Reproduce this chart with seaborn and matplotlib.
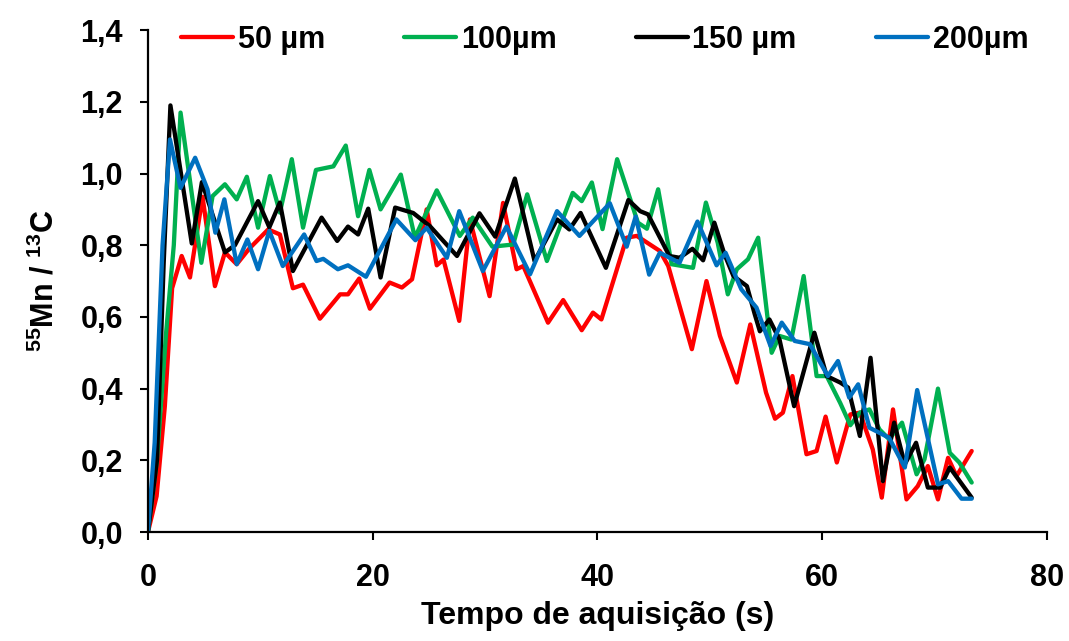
import numpy as np
import pandas as pd
import matplotlib
matplotlib.use("Agg")
import matplotlib.pyplot as plt
import seaborn as sns
from matplotlib.ticker import FuncFormatter

# Dados: tempo (s) e razão 55Mn/13C para cada diâmetro de feixe
t_50 = [0, 0.77, 1.5, 2.15, 3.0, 3.74, 4.86, 5.96, 6.85, 7.9, 9.0, 10.7, 11.74, 12.9, 13.8,
        15.3, 17.1, 17.8, 18.8, 19.75, 21.5, 22.6, 23.5, 24.8, 25.7, 26.3, 27.7, 28.65, 30.4,
        31.6, 32.8, 33.4, 35.6, 36.95, 38.6, 39.6, 40.35, 42.6, 43.5, 45.55, 46.3, 48.4, 49.7,
        50.9, 52.4, 53.6, 55.0, 55.8, 56.5, 57.35, 58.6, 59.5, 60.3, 61.3, 62.5, 63.35, 64.5,
        65.3, 66.3, 67.5, 68.5, 69.4, 70.3, 71.2, 71.95, 73.3]
y_50 = [0, 0.10, 0.35, 0.68, 0.77, 0.71, 0.935, 0.686, 0.78, 0.747, 0.79, 0.844, 0.83, 0.68, 0.69,
        0.595, 0.663, 0.663, 0.707, 0.623, 0.696, 0.682, 0.705, 0.90, 0.744, 0.76, 0.589, 0.872, 0.658,
        0.918, 0.733, 0.742, 0.584, 0.647, 0.563, 0.612, 0.593, 0.821, 0.826, 0.784, 0.742, 0.51, 0.70,
        0.547, 0.417, 0.579, 0.389, 0.316, 0.333, 0.435, 0.217, 0.226, 0.322, 0.194, 0.328, 0.333, 0.23,
        0.096, 0.342, 0.091, 0.128, 0.184, 0.091, 0.207, 0.156, 0.226]

t_100 = [0, 0.8, 1.6, 2.3, 2.9, 4.75, 5.75, 6.85, 7.9, 8.8, 9.8, 10.85, 11.74, 12.8, 13.8,
         14.95, 16.5, 17.6, 18.7, 19.7, 20.7, 22.5, 23.75, 25.7, 27.75, 28.9, 30.65, 32.5, 33.75,
         35.5, 37.8, 38.6, 39.5, 40.45, 41.75, 43.6, 44.4, 45.4, 46.6, 48.5, 49.65, 50.7, 51.6,
         52.4, 53.4, 54.3, 55.5, 56.2, 57.25, 58.35, 59.5, 60.4, 61.6, 62.5, 63.35, 64.2, 65.1,
         65.95, 67.1, 68.4, 69.1, 70.3, 71.35, 72.2, 73.3]
y_100 = [0, 0.2, 0.55, 0.8, 1.17, 0.751, 0.937, 0.97, 0.928, 0.991, 0.849, 0.993, 0.891, 1.04, 0.849,
         1.01, 1.02, 1.078, 0.881, 1.01, 0.90, 0.997, 0.821, 0.953, 0.826, 0.877, 0.796, 0.802, 0.942,
         0.756, 0.946, 0.923, 0.975, 0.845, 1.04, 0.863, 0.846, 0.956, 0.747, 0.737, 0.919, 0.807, 0.663,
         0.733, 0.761, 0.821, 0.50, 0.547, 0.537, 0.714, 0.435, 0.435, 0.36, 0.298, 0.333, 0.342, 0.286,
         0.259, 0.305, 0.161, 0.203, 0.40, 0.221, 0.194, 0.138]

t_150 = [0, 0.8, 1.4, 2.0, 3.9, 4.8, 6.85, 7.74, 9.8, 10.8, 11.74, 12.9, 15.45, 16.84, 17.8,
         18.7, 19.6, 20.7, 22.0, 23.6, 25.1, 27.5, 29.5, 30.9, 32.65, 34.4, 36.4, 37.5, 38.5,
         40.75, 42.75, 43.8, 44.5, 46.4, 47.3, 48.45, 49.4, 50.4, 51.3, 52.1, 53.3, 54.0, 54.45,
         55.3, 56.2, 57.5, 59.3, 60.4, 61.6, 62.3, 63.35, 64.3, 65.4, 66.4, 67.35, 68.35, 69.4,
         70.5, 71.35, 73.3]
y_150 = [0, 0.2, 0.75, 1.19, 0.805, 0.976, 0.78, 0.80, 0.923, 0.85, 0.919, 0.728, 0.877, 0.812, 0.852,
         0.83, 0.902, 0.71, 0.905, 0.89, 0.853, 0.77, 0.889, 0.824, 0.986, 0.756, 0.872, 0.844, 0.89,
         0.737, 0.926, 0.895, 0.886, 0.77, 0.765, 0.79, 0.758, 0.863, 0.775, 0.714, 0.686, 0.607, 0.56,
         0.593, 0.537, 0.351, 0.556, 0.435, 0.417, 0.403, 0.268, 0.486, 0.142, 0.305, 0.189, 0.249, 0.124,
         0.124, 0.18, 0.096]

t_200 = [0, 0.6, 1.3, 1.96, 2.9, 4.2, 5.3, 6.0, 6.8, 7.9, 8.85, 9.8, 10.8, 12.0, 13.9,
         15.0, 15.6, 16.9, 17.8, 19.4, 22.1, 23.8, 24.8, 26.6, 27.7, 29.8, 31.9, 34.0, 36.4,
         38.4, 41.1, 42.6, 43.4, 44.6, 45.55, 47.3, 48.9, 50.6, 51.4, 52.8, 54.15, 55.4, 56.4,
         57.55, 58.9, 60.5, 61.4, 62.4, 63.2, 64.2, 65.95, 67.35, 68.45, 70.3, 71.2, 72.4, 73.3]
y_200 = [0, 0.25, 0.8, 1.095, 0.96, 1.044, 0.956, 0.835, 0.928, 0.747, 0.816, 0.733, 0.84, 0.742, 0.83,
         0.756, 0.762, 0.733, 0.744, 0.712, 0.872, 0.814, 0.849, 0.765, 0.895, 0.728, 0.852, 0.719, 0.895,
         0.826, 0.917, 0.796, 0.88, 0.718, 0.779, 0.751, 0.866, 0.744, 0.779, 0.677, 0.626, 0.519, 0.584,
         0.533, 0.524, 0.435, 0.477, 0.375, 0.412, 0.291, 0.263, 0.18, 0.396, 0.133, 0.142, 0.093, 0.093]

labels = ["50 µm", "100µm", "150 µm", "200µm"]
cores = ["#FF0000", "#00B050", "#000000", "#0070C0"]

series = [(t_50, y_50), (t_100, y_100), (t_150, y_150), (t_200, y_200)]
frames = []
for lab, (t, y) in zip(labels, series):
    assert len(t) == len(y), lab
    frames.append(pd.DataFrame({"tempo": t, "razao": y, "feixe": lab}))
df = pd.concat(frames, ignore_index=True)

sns.set_theme(style="ticks", rc={"axes.edgecolor": "black", "text.color": "black",
                                 "axes.labelcolor": "black", "xtick.color": "black",
                                 "ytick.color": "black"})
plt.rcParams["font.family"] = ["Liberation Sans", "DejaVu Sans"]
plt.rcParams["font.weight"] = "bold"
plt.rcParams["mathtext.fontset"] = "custom"
plt.rcParams["mathtext.rm"] = "Liberation Sans:bold"
plt.rcParams["mathtext.bf"] = "Liberation Sans:bold"
plt.rcParams["mathtext.default"] = "rm"

fig = plt.figure(figsize=(10.69, 6.41), dpi=100)
ax = fig.add_axes([0.1384, 0.170, 0.841, 0.783])

sns.lineplot(data=df, x="tempo", y="razao", hue="feixe", hue_order=labels,
             palette=cores, estimator=None, sort=False, linewidth=3.1, ax=ax,
             solid_joinstyle="round", solid_capstyle="round")

ax.set_xlim(0, 80)
ax.set_ylim(0, 1.4)
ax.set_xticks([0, 20, 40, 60, 80])
ax.set_yticks(np.arange(0, 1.41, 0.2))
ax.yaxis.set_major_formatter(FuncFormatter(lambda v, p: f"{v:.1f}".replace(".", ",")))
ax.tick_params(axis="both", direction="out", length=6, width=1.5, labelsize=22)
ax.tick_params(axis="x", pad=16)
ax.tick_params(axis="y", pad=12)
for lab in ax.get_xticklabels() + ax.get_yticklabels():
    lab.set_fontweight("bold")
for s in ["left", "bottom"]:
    ax.spines[s].set_linewidth(1.6)
sns.despine(ax=ax)

ax.set_xlabel("Tempo de aquisição (s)", fontsize=23, fontweight="bold", labelpad=6)
ax.set_ylabel(r"$^{55}$Mn / $^{13}$C", fontsize=22, fontweight="bold", labelpad=14)

ax.legend(loc="center", bbox_to_anchor=(0.508, 0.98), ncol=4, frameon=False,
          prop={"size": 22, "weight": "bold"}, handlelength=1.7, handletextpad=0.15,
          columnspacing=2.6, borderaxespad=0)

fig.savefig("out.png", dpi=100)
